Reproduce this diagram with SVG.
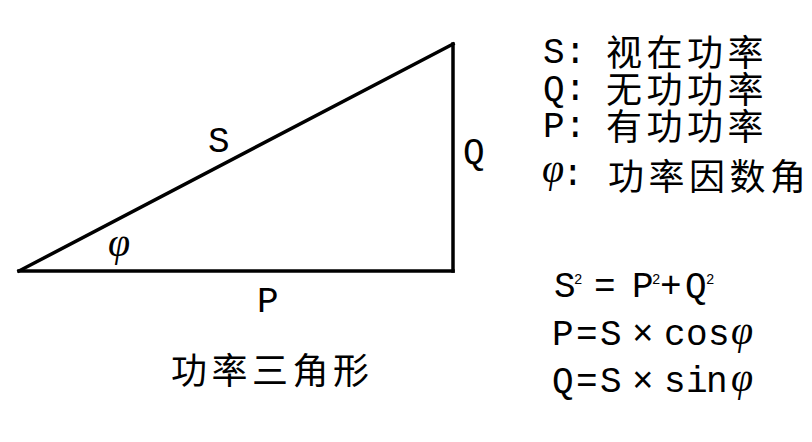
<svg xmlns="http://www.w3.org/2000/svg" width="812" height="442" viewBox="0 0 812 442">
<style>
.lat{font-family:"Liberation Mono","DejaVu Sans Mono",monospace;font-size:36px;fill:#000}
.cjk{font-family:"Noto Sans CJK SC","Noto Sans CJK JP",sans-serif;font-size:36px;fill:#000;letter-spacing:4.5px}
.phi{font-family:"Liberation Serif",serif;font-style:italic;font-size:40px;fill:#000}
.sup{font-family:"Liberation Mono",monospace;font-size:14px;fill:#000}
</style>
<rect width="812" height="442" fill="#fff"/>
<g id="connectors" fill="none" stroke="#000" stroke-width="3.5" stroke-linecap="square">
<line id="edge-S" x1="19" y1="271" x2="453" y2="44"/>
<line id="edge-P" x1="19" y1="271" x2="453" y2="271"/>
<line id="edge-Q" x1="453" y1="44" x2="453" y2="271"/>
</g>
<g id="labels">
<text class="lat" x="208" y="152">S</text>
<text class="lat" x="257" y="312">P</text>
<text class="lat" x="463" y="163">Q</text>
<text class="phi" x="108" y="256">φ</text>
<text class="cjk" x="171" y="384">功率三角形</text>
</g>
<g id="legend">
<text class="lat" x="543" y="63">S:</text><text class="cjk" x="606" y="66">视在功率</text>
<text class="lat" x="543" y="100">Q:</text><text class="cjk" x="606" y="103">无功功率</text>
<text class="lat" x="543" y="137">P:</text><text class="cjk" x="606" y="140">有功功率</text>
<text class="phi" x="542" y="182">φ</text><text class="lat" x="562" y="185">:</text><text class="cjk" x="608" y="190">功率因数角</text>
</g>
<g id="formulas">
<text class="lat" x="554" y="297">S</text><text class="sup" x="574" y="284">2</text>
<text class="lat" x="594" y="297">=</text>
<text class="lat" x="632" y="297">P</text><text class="sup" x="652" y="284">2</text>
<text class="lat" x="660" y="297">+</text>
<text class="lat" x="685" y="297">Q</text><text class="sup" x="706" y="284">2</text>
<text class="lat" x="552" y="345">P</text><text class="lat" x="576" y="345">=</text><text class="lat" x="600" y="345">S</text><text class="lat" x="632" y="345">×</text><text class="lat" x="664" y="345">c</text><text class="lat" x="686" y="345">o</text><text class="lat" x="708" y="345">s</text><text class="phi" x="731" y="344">φ</text>
<text class="lat" x="552" y="392">Q</text><text class="lat" x="576" y="392">=</text><text class="lat" x="600" y="392">S</text><text class="lat" x="632" y="392">×</text><text class="lat" x="664" y="392">s</text><text class="lat" x="686" y="392">i</text><text class="lat" x="706" y="392">n</text><text class="phi" x="731" y="391">φ</text>
</g>
</svg>
